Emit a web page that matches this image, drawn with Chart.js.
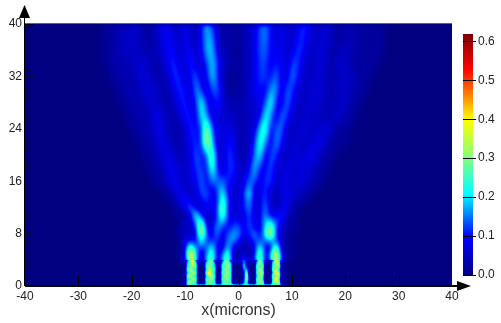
<!DOCTYPE html>
<html>
<head>
<meta charset="utf-8">
<script src="https://cdn.jsdelivr.net/npm/chart.js@4"></script>
<style>
html, body { margin: 0; padding: 0; background: #fff; }
#wrap { width: 501px; height: 323px; }
</style>
</head>
<body>
<div id="wrap"><canvas id="myChart" width="501" height="323"></canvas></div>
<script>
// intensity values are in hundredths
const xTicks = [-40, -30, -20, -10, 0, 10, 20, 30, 40];
const yTicks = [0, 8, 16, 24, 32, 40];
const barTicks = [0, 0.1, 0.2, 0.3, 0.4, 0.5, 0.6];

// far field: x = -30..32 in 1 micron steps
const farStart = -30;
const farY = [40, 38, 36, 34, 32, 30, 28, 26, 24, 22, 20, 18, 16];
const far40 = [0,0,0,0,0,1,1,2,2,2, 3,3,2,1,2,4,6,5,3,3, 5,4,2,6,14,8,3,1,2,1, 1,2,3,4,9,11,7,3,5,4, 3,4,8,6,3,3,4,3,2,1, 2,2,2,1,1,1,1,1,0,0, 0,0,0];
const far38 = [0,0,0,0,0,1,1,2,2,3, 3,3,2,1,2,3,5,6,4,3, 5,4,2,6,13,12,4,1,2,1, 1,2,3,5,9,11,6,4,5,4, 3,6,8,5,3,3,4,3,2,1, 2,2,2,1,1,1,1,1,0,0, 0,0,0];
const far36 = [0,0,0,0,0,1,1,2,2,3, 3,3,2,2,2,3,4,7,5,3, 5,6,3,5,13,14,5,2,2,1, 1,2,3,5,9,10,6,5,6,3, 4,8,7,3,3,4,4,2,2,2, 3,2,2,1,1,1,1,1,0,0, 0,0,0];
const far34 = [0,0,0,0,0,1,1,2,2,2, 3,3,4,3,2,2,3,6,8,4, 4,8,4,4,8,15,8,3,2,1, 1,2,3,5,8,9,5,7,6,3, 8,9,4,3,3,4,4,2,2,3, 3,2,1,1,1,1,1,0,0,0, 0,0,0];
const far32 = [0,0,0,0,0,0,1,1,2,2, 2,3,4,4,2,2,2,4,8,7, 3,6,10,4,5,15,8,3,1,1, 1,2,3,5,8,8,6,11,5,4, 11,7,3,3,3,4,3,2,2,3, 3,3,2,1,1,1,0,0,0,0, 0,0,0];
const far30 = [0,0,0,0,0,0,0,1,1,2, 2,2,3,4,4,2,2,2,5,8, 6,3,12,8,3,9,10,3,1,1, 1,2,3,5,7,5,12,12,4,9, 9,4,3,3,4,4,3,2,2,3, 3,2,2,1,1,0,0,0,0,0, 0,0,0];
const far28 = [0,0,0,0,0,0,0,0,1,1, 2,2,2,3,4,3,2,2,3,6, 8,3,7,18,7,4,8,4,2,2, 2,2,3,4,5,8,19,7,4,11, 6,3,3,3,4,3,3,2,2,3, 3,2,1,1,0,0,0,0,0,0, 0,0,0];
const far26 = [0,0,0,0,0,0,0,0,0,1, 1,2,2,2,4,5,3,2,2,3, 7,7,4,17,13,4,5,4,3,3, 2,2,3,3,5,17,13,4,10,9, 3,3,3,4,3,3,2,2,3,3, 2,1,1,0,0,0,0,0,0,0, 0,0,0];
const far24 = [0,0,0,0,0,0,0,0,0,0, 1,1,2,2,3,5,4,2,2,2, 3,8,6,8,28,9,5,4,5,4, 2,2,3,4,14,21,6,9,11,3, 3,3,4,3,3,3,4,4,2,1, 1,1,0,0,0,0,0,0,0,0, 0,0,0];
const far22 = [0,0,0,0,0,0,0,0,0,0, 0,1,1,2,2,4,5,3,2,2, 3,6,8,6,33,14,4,4,6,6, 2,2,3,7,20,13,4,12,7,3, 3,4,3,3,4,5,4,2,1,1, 1,0,0,0,0,0,0,0,0,0, 0,0,0];
const far20 = [0,0,0,0,0,0,0,0,0,0, 0,0,1,1,2,3,4,5,3,2, 3,4,10,6,10,25,5,3,8,7, 2,2,3,10,18,4,9,9,3,3, 4,4,3,5,5,3,2,1,1,0, 0,0,0,0,0,0,0,0,0,0, 0,0,0];
const far18 = [0,0,0,0,0,0,0,0,0,0, 0,0,0,1,1,2,3,5,5,3, 3,4,8,9,5,22,7,3,7,8, 3,3,5,15,7,5,10,4,3,5, 4,3,5,4,3,2,1,1,0,0, 0,0,0,0,0,0,0,0,0,0, 0,0,0];
const far16 = [0,0,0,0,0,0,0,0,0,0, 0,0,0,0,1,1,2,4,6,4, 3,4,5,11,5,11,10,10,7,6, 3,5,10,10,4,8,8,3,4,5, 3,4,4,3,2,1,1,0,0,0, 0,0,0,0,0,0,0,0,0,0, 0,0,0];
const farRows = [far40, far38, far36, far34, far32, far30, far28, far26, far24, far22, far20, far18, far16];

// middle: x = -18..18 in 1 micron steps
const midStart = -18;
const midY = [16, 15, 14, 13, 12, 11, 10, 9, 8, 7, 6, 5, 4];
const mid16 = [0,0,1,1,2,4,6,4, 3,4,5,11,5,11,10,10,7,6, 3,5,10,10,4,8,8,3,4,5, 3,4,4,3,2,1,1,0,0];
const mid15 = [0,0,0,1,1,2,5,5, 3,3,4,10,7,6,9,14,5,5, 3,5,14,5,3,9,5,3,4,5, 3,4,3,2,1,1,0,0,0];
const mid14 = [0,0,0,0,1,1,3,6, 4,3,4,8,10,4,7,20,6,4, 3,7,18,3,5,9,3,2,4,5, 4,3,2,1,1,0,0,0,0];
const mid13 = [0,0,0,0,0,1,2,4, 8,4,3,5,8,5,6,23,7,4, 4,6,14,3,5,10,3,2,3,6, 3,2,1,1,0,0,0,0,0];
const mid12 = [0,0,0,0,0,0,1,2, 4,12,4,3,6,5,6,29,6,3, 5,6,13,3,4,12,4,3,4,6, 2,1,1,0,0,0,0,0,0];
const mid11 = [0,0,0,0,0,0,1,1, 2,5,18,5,4,4,7,26,6,4, 4,4,11,3,5,12,5,4,8,3, 2,1,0,0,0,0,0,0,0];
const mid10 = [0,0,0,0,0,0,0,1, 2,3,14,20,3,3,9,17,6,6, 7,4,10,4,5,14,14,8,7,2, 1,1,0,0,0,0,0,0,0];
const mid09 = [0,0,0,0,0,0,0,2, 2,3,6,34,5,4,13,8,6,8, 10,4,10,5,4,15,26,9,4,2, 1,1,0,0,0,0,0,0,0];
const mid08 = [0,0,0,0,0,0,0,2, 3,3,4,32,8,4,12,4,9,12, 11,5,6,13,4,17,34,8,3,1, 1,0,0,0,0,0,0,0,0];
const mid07 = [0,0,0,0,0,0,0,1, 4,7,4,20,8,7,9,4,11,12, 7,3,4,9,9,10,14,10,3,1, 1,0,0,0,0,0,0,0,0];
const mid06 = [0,0,0,0,0,0,0,1, 4,24,8,11,8,17,5,3,15,6, 3,2,2,5,18,6,5,24,3,1, 1,0,0,0,0,0,0,0,0];
const mid05 = [0,0,0,0,0,0,0,1, 3,44,12,3,9,24,3,8,22,2, 1,3,1,4,28,4,8,42,4,1, 1,0,0,0,0,0,0,0,0];
const mid04 = [0,0,0,0,0,0,0,1, 2,40,18,1,14,28,2,14,28,2, 1,14,1,8,30,3,14,42,6,1, 1,0,0,0,0,0,0,0,0];
const midRows = [mid16, mid15, mid14, mid13, mid12, mid11, mid10, mid09, mid08, mid07, mid06, mid05, mid04];

// slits: x = -11..9 in half micron steps
const nearStart = -11;
const nearY = [4, 3.5, 3, 2.5, 2, 1.5, 1, 0.5, 0];
const near40 = [3,5,8, 12,34,38,12, 8,8,9, 12,26,28,8, 8,9, 10,24,28,8, 8,8,7, 8,14,7, 8,8,9, 12,30,18, 9,9,9, 12,40,28, 9,6,3];
const near35 = [1,2,4, 20,30,38,22, 4,4,4, 20,28,30,16, 4,4, 18,30,28,20, 4,3,3, 6,16,8, 3,3,4, 20,32,24, 4,4,4, 24,34,30, 5,3,1];
const near30 = [1,1,3, 22,28,30,26, 2,1,2, 24,32,24,20, 1,2, 24,24,32,22, 2,1,1, 4,20,10, 1,2,2, 28,24,30, 2,1,2, 26,28,36, 6,2,1];
const near25 = [1,1,3, 26,32,26,22, 1,1,1, 20,34,30,24, 1,1, 22,32,26,22, 1,1,1, 2,14,18, 2,1,2, 24,32,26, 1,1,2, 30,32,24, 5,2,1];
const near20 = [1,1,3, 20,28,34,26, 1,1,1, 28,44,28,20, 1,1, 26,24,34,24, 1,1,1, 1,8,28, 3,1,2, 26,30,32, 1,1,2, 22,42,32, 5,2,1];
const near15 = [1,1,3, 28,34,24,22, 1,1,1, 20,30,34,24, 1,1, 22,34,26,24, 1,1,1, 2,6,34, 6,1,2, 22,32,26, 1,1,2, 32,26,36, 4,2,1];
const near10 = [1,1,3, 22,26,32,26, 1,1,1, 26,26,30,20, 1,1, 26,24,32,22, 1,1,1, 1,10,30, 8,1,2, 28,30,24, 1,1,2, 26,44,28, 3,2,1];
const near05 = [1,1,3, 26,34,26,22, 1,1,1, 22,32,26,24, 1,1, 22,30,26,26, 1,1,1, 2,14,24, 4,1,2, 24,28,32, 1,1,2, 30,28,36, 3,2,1];
const near00 = [6,6,8, 20,20,22,20, 26,28,26, 22,22,20,20, 28,26, 22,20,22,20, 30,28,26, 24,26,22, 30,28,26, 22,22,20, 28,26,28, 22,22,20, 16,10,6];
const nearRows = [near40, near35, near30, near25, near20, near15, near10, near05, near00];

const colorStops = [
  [0, [0, 0, 128]],
  [0.1, [0, 0, 255]],
  [0.21, [0, 255, 255]],
  [0.3, [128, 255, 128]],
  [0.4, [255, 255, 0]],
  [0.53, [255, 0, 0]],
  [0.62, [128, 0, 0]]
];

const colorFor = v => {
  for (let i = 1; i < colorStops.length; i++) {
    if (v <= colorStops[i][0]) {
      const a = colorStops[i - 1];
      const b = colorStops[i];
      const t = (v - a[0]) / (b[0] - a[0]);
      return a[1].map((c, k) => Math.round(c + (b[1][k] - c) * t));
    }
  }
  return colorStops[colorStops.length - 1][1];
};

const buildLayer = (rows, ys, startX, stepX, soft) => {
  const points = [];
  rows.forEach((row, r) => {
    row.forEach((v, c) => {
      points.push({ x: startX + c * stepX, y: ys[r], v: v / 100 });
    });
  });
  return {
    data: points,
    cols: rows[0].length,
    rowCount: rows.length,
    soft: soft,
    pointRadius: 0,
    showLine: false
  };
};

const scaleMax = 0.62;
const softBlur = 2.5;
const softCurve = 0.8; // lifts the faint glow the coarse grid and blur lose

const makeCanvas = (w, h) => {
  const c = document.createElement("canvas");
  c.width = w;
  c.height = h;
  return c;
};

// the value goes in as a grey level, gets smoothed, and only then is coloured
const paintLayer = (target, ds, sx, sy) => {
  const off = makeCanvas(ds.cols, ds.rowCount);
  const octx = off.getContext("2d");
  const img = octx.createImageData(ds.cols, ds.rowCount);
  ds.data.forEach((p, i) => {
    const level = ds.soft ? Math.pow(p.v / scaleMax, softCurve) : p.v / scaleMax;
    const g = Math.min(255, level * 255);
    img.data[i * 4] = g;
    img.data[i * 4 + 1] = g;
    img.data[i * 4 + 2] = g;
    img.data[i * 4 + 3] = 255;
  });
  octx.putImageData(img, 0, 0);
  const first = ds.data[0];
  const last = ds.data[ds.data.length - 1];
  const x0 = sx.getPixelForValue(first.x);
  const x1 = sx.getPixelForValue(last.x);
  const y0 = sy.getPixelForValue(first.y);
  const y1 = sy.getPixelForValue(last.y);
  target.imageSmoothingEnabled = true;
  target.imageSmoothingQuality = "high";
  target.drawImage(off, 0.5, 0.5, ds.cols - 1, ds.rowCount - 1, x0, y0, x1 - x0, y1 - y0);
};

const heatPlugin = {
  id: "heat",
  beforeDatasetsDraw(chart) {
    const ctx = chart.ctx;
    const area = chart.chartArea;
    const sx = chart.scales.x;
    const sy = chart.scales.y;
    const w = chart.width;
    const h = chart.height;

    // the slit layer goes under the blur too, so the middle layer has no dark seam
    const softCanvas = makeCanvas(w, h);
    const softCtx = softCanvas.getContext("2d");
    softCtx.fillStyle = "#000";
    softCtx.fillRect(0, 0, w, h);
    chart.data.datasets.forEach(ds => paintLayer(softCtx, ds, sx, sy));

    const greyCanvas = makeCanvas(w, h);
    const greyCtx = greyCanvas.getContext("2d", { willReadFrequently: true });
    greyCtx.fillStyle = "#000";
    greyCtx.fillRect(0, 0, w, h);
    greyCtx.filter = `blur(${softBlur}px)`;
    greyCtx.drawImage(softCanvas, 0, 0);
    greyCtx.filter = "none";
    chart.data.datasets.filter(ds => !ds.soft).forEach(ds => paintLayer(greyCtx, ds, sx, sy));

    const lut = [];
    for (let g = 0; g < 256; g++) {
      lut.push(colorFor((g / 255) * scaleMax));
    }
    const pixels = greyCtx.getImageData(0, 0, w, h);
    for (let i = 0; i < pixels.data.length; i += 4) {
      const rgb = lut[pixels.data[i]];
      pixels.data[i] = rgb[0];
      pixels.data[i + 1] = rgb[1];
      pixels.data[i + 2] = rgb[2];
    }
    greyCtx.putImageData(pixels, 0, 0);

    ctx.save();
    ctx.beginPath();
    ctx.rect(area.left, area.top, area.right - area.left, area.bottom - area.top);
    ctx.clip();
    ctx.drawImage(greyCanvas, 0, 0);
    ctx.restore();
  },
  afterDraw(chart) {
    const ctx = chart.ctx;
    const area = chart.chartArea;
    const sx = chart.scales.x;
    const sy = chart.scales.y;
    const bar = chart.scales.bar;
    ctx.save();

    // colour bar
    const barTop = bar.getPixelForValue(0.62);
    const barBottom = bar.getPixelForValue(0);
    for (let p = barTop; p < barBottom; p++) {
      const rgb = colorFor(bar.getValueForPixel(p + 0.5));
      ctx.fillStyle = `rgb(${rgb[0]},${rgb[1]},${rgb[2]})`;
      ctx.fillRect(463, Math.round(p), 10, 1);
    }
    ctx.strokeStyle = "#000";
    ctx.lineWidth = 1;
    barTicks.forEach(t => {
      const py = Math.round(bar.getPixelForValue(t)) + 0.5;
      ctx.beginPath();
      ctx.moveTo(463, py);
      ctx.lineTo(476, py);
      ctx.stroke();
    });

    // inward ticks
    ctx.strokeStyle = "#0a0a3a";
    for (let v = 1; v < 40; v++) {
      const py = Math.round(sy.getPixelForValue(v)) + 0.5;
      ctx.beginPath();
      ctx.moveTo(area.left, py);
      ctx.lineTo(area.left + (v % 8 === 0 ? 8 : 4), py);
      ctx.stroke();
    }
    ctx.strokeStyle = "#000";
    ctx.beginPath();
    ctx.moveTo(area.left, area.top + 0.5);
    ctx.lineTo(area.left + 9, area.top + 0.5);
    ctx.stroke();
    xTicks.slice(1, -1).forEach(t => {
      const px = Math.round(sx.getPixelForValue(t)) + 0.5;
      ctx.beginPath();
      ctx.moveTo(px, area.bottom);
      ctx.lineTo(px, area.bottom - 10);
      ctx.stroke();
    });

    // top edge and axes
    ctx.strokeStyle = "#5a5aa8";
    ctx.beginPath();
    ctx.moveTo(area.left, area.top - 0.5);
    ctx.lineTo(area.right, area.top - 0.5);
    ctx.stroke();
    ctx.strokeStyle = "#000";
    ctx.beginPath();
    ctx.moveTo(area.left - 0.5, 16);
    ctx.lineTo(area.left - 0.5, area.bottom);
    ctx.stroke();
    ctx.lineWidth = 2;
    ctx.beginPath();
    ctx.moveTo(area.left, area.bottom);
    ctx.lineTo(458, area.bottom);
    ctx.stroke();

    // arrow heads
    ctx.fillStyle = "#000";
    ctx.beginPath();
    ctx.moveTo(area.left - 0.5, 5);
    ctx.lineTo(area.left + 5, 18);
    ctx.lineTo(area.left - 6, 18);
    ctx.closePath();
    ctx.fill();
    ctx.beginPath();
    ctx.moveTo(471, area.bottom);
    ctx.lineTo(457, area.bottom - 5);
    ctx.lineTo(457, area.bottom + 5);
    ctx.closePath();
    ctx.fill();
    ctx.restore();
  }
};

const labelFont = { family: "'Liberation Sans', Arial, sans-serif", size: 12 };
const noVerticalPad = s => { s.paddingTop = 0; s.paddingBottom = 0; };

new Chart(document.getElementById("myChart").getContext("2d"), {
  type: "scatter",
  data: {
    datasets: [
      buildLayer(farRows, farY, farStart, 1, true),
      buildLayer(midRows, midY, midStart, 1, true),
      buildLayer(nearRows, nearY, nearStart, 0.5, false)
    ]
  },
  options: {
    responsive: false,
    animation: false,
    events: [],
    layout: { padding: { top: 24, right: 0, bottom: 0, left: 0 }, autoPadding: false },
    plugins: { legend: { display: false }, tooltip: { enabled: false } },
    scales: {
      x: {
        type: "linear",
        min: -40,
        max: 40,
        afterFit: s => { s.height = 37; },
        afterBuildTicks: s => { s.ticks = xTicks.map(v => ({ value: v })); },
        grid: { display: false, drawTicks: false },
        border: { display: false },
        ticks: { color: "#222", font: labelFont, padding: 3, maxRotation: 0, autoSkip: false },
        title: {
          display: true,
          text: "x(microns)",
          color: "#333",
          font: { family: labelFont.family, size: 16 },
          padding: { top: 0, bottom: 3 }
        }
      },
      y: {
        type: "linear",
        min: 0,
        max: 40,
        afterFit: s => { s.width = 25; noVerticalPad(s); },
        afterBuildTicks: s => { s.ticks = yTicks.map(v => ({ value: v })); },
        grid: { display: false, drawTicks: false },
        border: { display: false },
        ticks: { color: "#222", font: labelFont, padding: 3, autoSkip: false }
      },
      bar: {
        type: "linear",
        position: "right",
        min: -0.0282,
        max: 0.6444,
        afterFit: s => { s.width = 49; noVerticalPad(s); },
        afterBuildTicks: s => { s.ticks = barTicks.map(v => ({ value: v })); },
        grid: { display: false, drawTicks: false },
        border: { display: false },
        ticks: {
          color: "#222",
          font: labelFont,
          padding: 26,
          autoSkip: false,
          callback: v => v.toFixed(1)
        }
      }
    }
  },
  plugins: [heatPlugin]
});
</script>
</body>
</html>
